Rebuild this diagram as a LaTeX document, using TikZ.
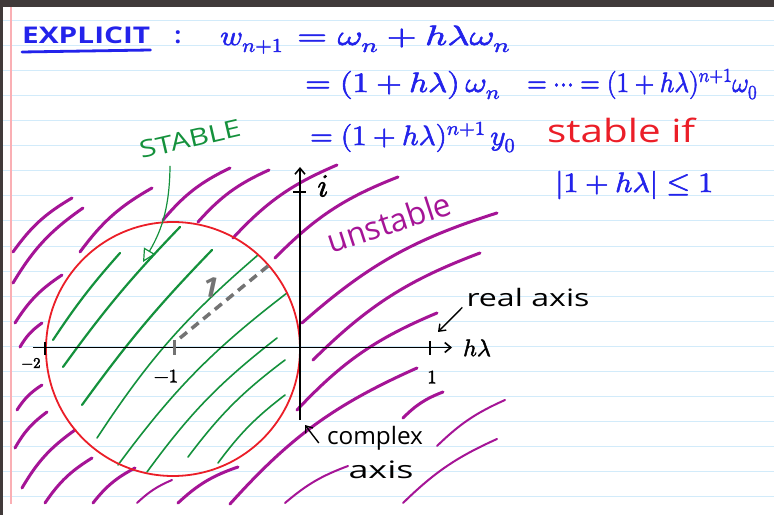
\documentclass[tikz,border=0pt]{standalone}
\usepackage{graphicx}
\usepackage{fontspec}
\usepackage{unicode-math}
\setsansfont{Open Sans}
\setmathfont{Latin Modern Math}[FakeBold=2]
\usetikzlibrary{arrows.meta}

\definecolor{inkblue}{RGB}{35,35,235}
\definecolor{inkmag}{RGB}{165,20,150}
\definecolor{inkgreen}{RGB}{20,145,60}
\definecolor{inkred}{RGB}{235,30,40}
\definecolor{inkgray}{RGB}{115,115,115}
\definecolor{ruled}{RGB}{210,235,250}
\definecolor{marginline}{RGB}{250,175,180}
\definecolor{frame}{RGB}{64,58,58}

\newcommand{\fitto}[2]{\resizebox{#1}{\height}{#2}}

\begin{document}
\begin{tikzpicture}[
  x=1pt, y=-1pt,
  every node/.style={inner sep=0pt},
  hatch/.style={inkmag, line width=3pt, line cap=round},
  thinhatch/.style={inkmag, line width=2pt, line cap=round},
  shade/.style={inkgreen, line width=1.6pt, line cap=round},
  axis/.style={black, line width=1.6pt},
  pointer/.style={black, line width=1.4pt, -{Straight Barb[length=6pt,width=9pt]}},
  blueink/.style={text=inkblue, font=\fontsize{28}{32}\selectfont, anchor=base west},
  hand/.style={font=\sffamily\fontsize{24}{28}\selectfont},
  mathlbl/.style={font=\fontsize{24}{28}\selectfont}]
\useasboundingbox (0,0) rectangle (774,518);
\fill[white] (0,0) rectangle (774,518);
\foreach \k in {0,...,19}
  \draw[ruled, line width=1pt] (3,{20.3+25.08*\k}) -- (774,{20.3+25.08*\k});
\draw[marginline, line width=1.2pt] (11,7) -- (11,504);
\fill[frame] (0,0) rectangle (774,7);
\fill[frame] (0,0) rectangle (3,515);

\foreach \xa/\ya/\xb/\yb in {13/252/72/198, 13/283/83/208, 15/323/62/275, 20/347/42/323,
    80/252/152/188, 163/220/230/168, 198/222/269/170, 233/238/337/165,
    275/258/398/177, 302/323/497/213, 313/360/480/253, 297/410/437/313,
    230/504/417/368, 403/418/443/392, 17/410/42/385, 15/448/47/412,
    22/488/75/430, 45/503/92/458, 93/503/135/468, 178/503/238/467}
  \draw[hatch] (\xa,\ya) to[bend left=12] (\xb,\yb);
\foreach \xa/\ya/\xb/\yb in {437/446/505/400, 403/503/497/439, 285/503/348/466, 137/503/172/480}
  \draw[thinhatch] (\xa,\ya) to[bend left=10] (\xb,\yb);

\foreach \xa/\ya/\xb/\yb in {53/340/120/253, 63/367/180/227, 82/405/212/250}
  \draw[shade, line width=2.2pt] (\xa,\ya) to[bend left=4] (\xb,\yb);
\foreach \xa/\ya/\xb/\yb in {97/438/258/255, 118/465/287/293, 147/472/277/338,
    188/457/285/360, 218/463/285/395}
  \draw[shade] (\xa,\ya) to[bend left=8] (\xb,\yb);

\draw[inkred, line width=1.8pt] (173,349) circle[radius=127];

\draw[axis, -{Straight Barb[length=6pt,width=10pt]}] (33,347.5) -- (452,347.5);
\draw[axis, -{Straight Barb[length=6pt,width=10pt]}] (300,420) -- (300,167);
\draw[axis] (45,342) -- (45,355);
\draw[axis] (430,341) -- (430,355);
\draw[axis] (293,192) -- (306,192);
\draw[inkgray, line width=3pt] (174,340) -- (174,355);
\draw[inkgray, line width=3.5pt, dash pattern=on 9pt off 6pt] (180,338) -- (268,266);

\node[text=inkblue, font=\sffamily\bfseries\fontsize{23}{26}\selectfont, anchor=base west] (explicit) at (22,44)
  {\fitto{128pt}{EXPLICIT}};
\draw[inkblue, line width=2.8pt, line cap=round]
  ([yshift=-8pt]explicit.base west) -- ([yshift=-6pt]explicit.base east);
\node[text=inkblue, font=\sffamily\bfseries\fontsize{23}{26}\selectfont, anchor=base] (colon) at (178,44) {:};
\node[blueink] (wnext) at (220,45) {\fitto{63pt}{$w_{n+1}$}};
\node[blueink] (step1) at (297,45) {\fitto{213pt}{$=\omega_n+h\lambda\omega_n$}};
\node[blueink] (step2) at (305,92) {\fitto{195pt}{$=(1+h\lambda)\,\omega_n$}};
\node[blueink] (step3) at (527,92) {\fitto{230pt}{$=\cdots=(1+h\lambda)^{n+1}\omega_0$}};
\node[blueink] (step4) at (310,145) {\fitto{205pt}{$=(1+h\lambda)^{n+1}\,y_0$}};
\node[text=inkred, font=\sffamily\fontsize{32}{36}\selectfont, anchor=base west] (stableif) at (547,143)
  {\fitto{148pt}{stable if}};
\node[blueink] (cond) at (555,192) {\fitto{158pt}{$|1+h\lambda|\leq 1$}};

\node[text=inkgreen, hand, rotate=13] (stable) at (190,139) {\fitto{103pt}{STABLE}};
\coordinate (stabletip) at (143,262);
\draw[inkgreen, line width=1.2pt, -{Triangle[open,length=13pt,width=13pt]}]
  ([shift={(-22pt,-18pt)}]stable.south) to[bend left=15] (stabletip);
\node[text=inkmag, font=\sffamily\fontsize{32}{36}\selectfont, rotate=18] (unstable) at (389,222)
  {\fitto{128pt}{unstable}};

\node[font=\fontsize{32}{36}\selectfont] (imag) at (323,186) {$i$};
\node[mathlbl] (hl) at (477,348) {$h\lambda$};
\node[font=\fontsize{19}{22}\selectfont] (one) at (432,377) {$1$};
\node[font=\fontsize{19}{22}\selectfont] (mone) at (166,376) {$-1$};
\node[font=\fontsize{15}{18}\selectfont] (mtwo) at (31,363) {$-2$};
\node[text=inkgray, font=\sffamily\bfseries\fontsize{28}{30}\selectfont, rotate=-12] (radius) at (211,287) {1};

\node[hand] (realaxis) at (528,298) {\fitto{123pt}{real axis}};
\coordinate (realtip) at (438,332);
\draw[pointer] ([xshift=-4pt]realaxis.south west) -- (realtip);
\node[hand] (complex) at (375,438) {\fitto{96pt}{complex}};
\node[hand] (axislbl) at (381,470) {\fitto{65pt}{axis}};
\coordinate (cxtip) at (305,425);
\draw[pointer] ([xshift=-8pt,yshift=-5pt]complex.west) -- (cxtip);
\end{tikzpicture}
\end{document}
